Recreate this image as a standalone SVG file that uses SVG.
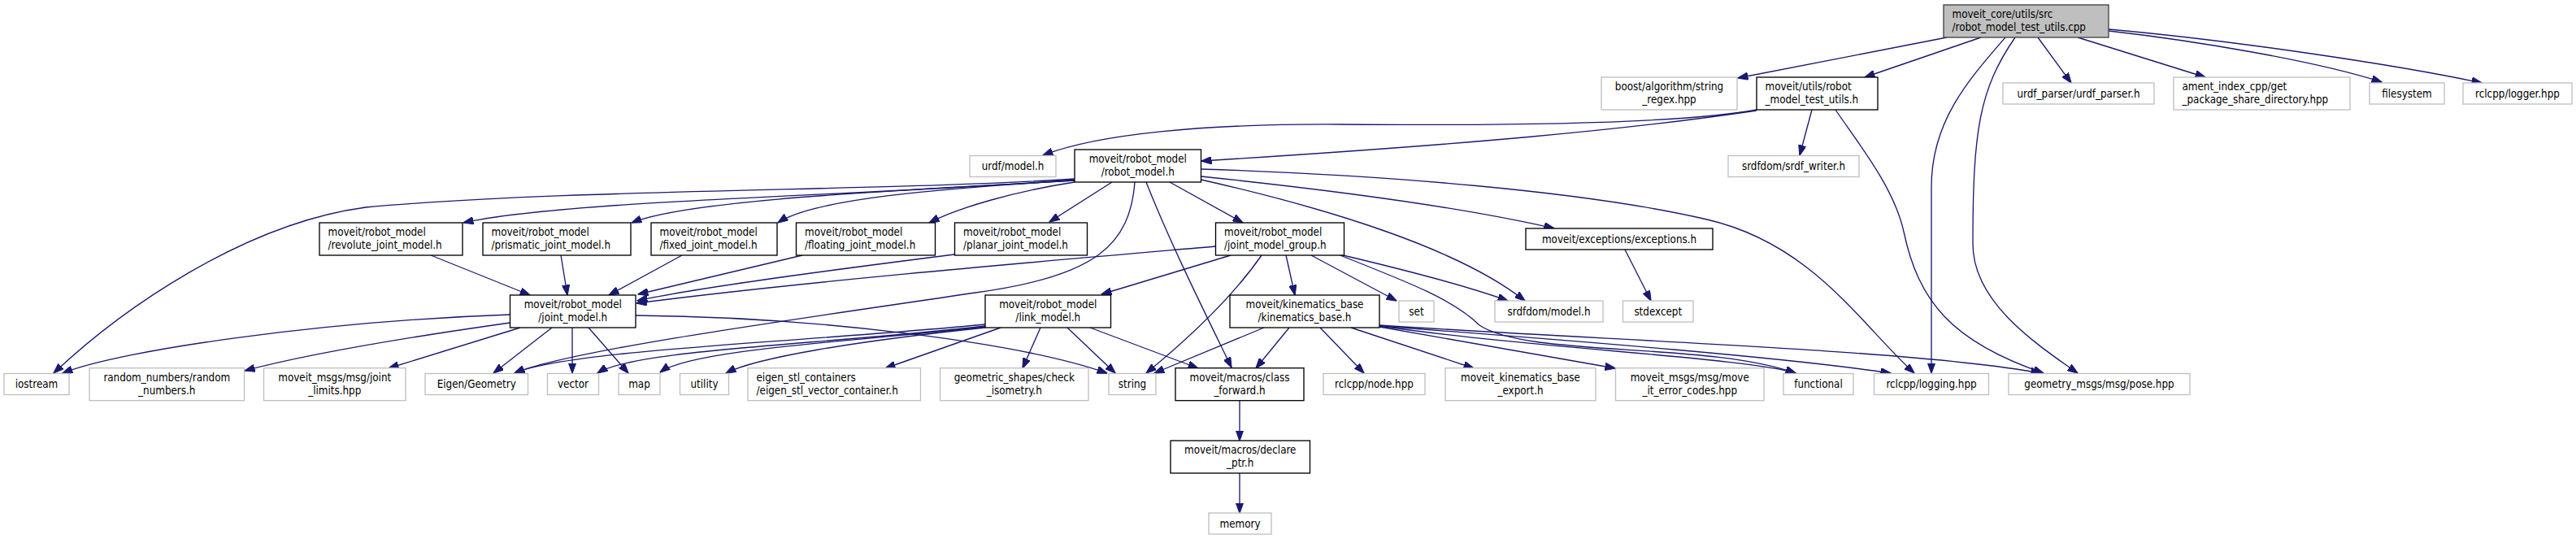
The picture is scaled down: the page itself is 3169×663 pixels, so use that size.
<svg xmlns="http://www.w3.org/2000/svg" width="3169" height="663" viewBox="0 0 3169 663">
<style>
.n rect{fill:#fff;stroke:#bfbfbf;stroke-width:1.33}
.d rect{fill:#fff;stroke:#000;stroke-width:1.33}
.r rect{fill:#bfbfbf;stroke:#404040;stroke-width:1.33}
text{font-family:"DejaVu Sans Condensed","DejaVu Sans",sans-serif;font-stretch:condensed;font-size:13.3px;fill:#000}
.m{text-anchor:middle}
#edges path{fill:none;stroke:#191970;stroke-width:1.33;marker-end:url(#ah)}
</style>
<defs>
<marker id="ah" markerUnits="userSpaceOnUse" viewBox="0 0 13 9.4" refX="12.5" refY="4.7" markerWidth="13" markerHeight="9.4" orient="auto">
<path d="M0,0 L13,4.7 L0,9.4 z" fill="#191970" stroke="#191970" stroke-width="1"/>
</marker>
</defs>
<rect width="3169" height="663" fill="#fff"/>
<g id="edges">
<path d="M2395,46 L2138,96"/>
<path d="M2437,46 L2294,95"/>
<path d="M2507,46 L2548,102"/>
<path d="M2556,46 L2713,95"/>
<path d="M2594,38 C2700,50 2850,75 2930,101"/>
<path d="M2594,36 C2750,50 2950,80 3053,102"/>
<path d="M2467,46 C2420,100 2376,150 2376,230 L2376,459"/>
<path d="M2479,46 C2435,110 2427,160 2427,300 C2427,370 2500,420 2556,459"/>
<path d="M2161,135 C2080,150 1900,155 1650,153 C1480,152 1350,165 1283,191"/>
<path d="M2161,136 C2000,160 1800,178 1478,198"/>
<path d="M2229,135 L2214,191"/>
<path d="M2258,135 C2285,175 2330,230 2342,285 C2360,370 2400,420 2514,459"/>
<path d="M1322,220 C1100,235 700,232 450,255 C300,275 150,380 66,459"/>
<path d="M1322,221 C1100,240 700,245 570,274"/>
<path d="M1322,222 C1100,235 850,245 777,274"/>
<path d="M1322,222 C1150,232 1000,245 957,274"/>
<path d="M1322,224 C1250,235 1180,255 1143,274"/>
<path d="M1368,224 L1291,273"/>
<path d="M1439,224 L1529,274"/>
<path d="M1477.5,217 C1650,235 1800,255 1912,281"/>
<path d="M1477.5,221 C1650,260 1800,310 1876,370"/>
<path d="M1477.5,208 C1700,215 1950,235 2100,270 C2230,300 2290,400 2355,459"/>
<path d="M1396,224 C1390,300 1350,340 1200,360 C1000,390 700,430 633,459"/>
<path d="M1410,224 C1440,300 1480,380 1515,452"/>
<path d="M1495.5,303 C1300,320 1000,345 783,373"/>
<path d="M1514,314 L1355,362"/>
<path d="M1582,314 L1593,363"/>
<path d="M1613,314 L1718,370"/>
<path d="M1648,313 C1720,330 1800,350 1855,370"/>
<path d="M1646,313 C1740,350 1790,370 1820,400 C1880,440 2100,420 2209,459"/>
<path d="M1552,314 C1520,360 1470,410 1410,459"/>
<path d="M627.5,387 C400,395 150,430 77,459"/>
<path d="M627.5,397 C500,415 380,435 301,456"/>
<path d="M640,403 L478,453"/>
<path d="M679,403 L607,459"/>
<path d="M704,403 L704,459"/>
<path d="M724,403 L773,459"/>
<path d="M782,388 C1000,390 1250,420 1362,459"/>
<path d="M1212,399 C1000,420 700,430 633,459"/>
<path d="M1212,401 C1000,425 780,430 735,459"/>
<path d="M1212,402 C1050,420 850,430 812,458"/>
<path d="M1212,403 C1050,420 930,440 893,459"/>
<path d="M1231,403 L1089,453"/>
<path d="M1280,403 L1258,453"/>
<path d="M1313,403 L1372,459"/>
<path d="M1341,403 L1474,453"/>
<path d="M1555,403 L1420,459"/>
<path d="M1586,403 L1545,453"/>
<path d="M1624,403 L1678,459"/>
<path d="M1662,403 L1813,453"/>
<path d="M1697,402 L1987,453"/>
<path d="M1697,401 C1900,430 2150,440 2209,459"/>
<path d="M1697,401 C1950,420 2200,440 2326,459"/>
<path d="M1697,400 C2000,420 2350,430 2511,459"/>
<path d="M530,314 L652,363"/>
<path d="M690,314 L698,363"/>
<path d="M839,314 L749,363"/>
<path d="M987,314 L785,362"/>
<path d="M1174,313 C1000,335 850,355 784,370"/>
<path d="M1999,307 L2031,370"/>
<path d="M1525,493 L1525,542"/>
<path d="M1525,582 L1525,631"/>
</g>
<g id="root" class="r"><rect x="2391" y="6" width="203" height="40"/><text x="2401.5" y="22.3">moveit_core/utils/src</text><text x="2401.5" y="37.9">/robot_model_test_utils.cpp</text></g>
<g id="boost" class="n"><rect x="1970" y="95" width="167" height="40"/><text class="m" x="2053.5" y="111.3">boost/algorithm/string</text><text class="m" x="2053.5" y="126.9">_regex.hpp</text></g>
<g id="test_utils" class="d"><rect x="2161" y="95" width="149" height="40"/><text x="2171.5" y="111.3">moveit/utils/robot</text><text x="2171.5" y="126.9">_model_test_utils.h</text></g>
<g id="urdf_parser" class="n"><rect x="2464" y="102" width="186" height="26"/><text class="m" x="2557" y="119.6">urdf_parser/urdf_parser.h</text></g>
<g id="ament" class="n"><rect x="2674" y="95" width="217" height="40"/><text x="2684.5" y="111.3">ament_index_cpp/get</text><text x="2684.5" y="126.9">_package_share_directory.hpp</text></g>
<g id="filesystem" class="n"><rect x="2915" y="102" width="92" height="26"/><text class="m" x="2961" y="119.6">filesystem</text></g>
<g id="logger" class="n"><rect x="3030" y="102" width="134" height="26"/><text class="m" x="3097" y="119.6">rclcpp/logger.hpp</text></g>
<g id="urdf_model" class="n"><rect x="1193" y="191.5" width="106" height="26"/><text class="m" x="1246" y="209.1">urdf/model.h</text></g>
<g id="robot_model" class="d"><rect x="1322" y="184" width="155.5" height="40"/><text class="m" x="1399.75" y="200.3">moveit/robot_model</text><text class="m" x="1399.75" y="215.9">/robot_model.h</text></g>
<g id="srdf_writer" class="n"><rect x="2126" y="191.5" width="161" height="26"/><text class="m" x="2206.5" y="209.1">srdfdom/srdf_writer.h</text></g>
<g id="revolute" class="d"><rect x="393" y="274" width="176" height="40"/><text x="403.5" y="290.3">moveit/robot_model</text><text x="403.5" y="305.9">/revolute_joint_model.h</text></g>
<g id="prismatic" class="d"><rect x="594" y="274" width="182" height="40"/><text x="604.5" y="290.3">moveit/robot_model</text><text x="604.5" y="305.9">/prismatic_joint_model.h</text></g>
<g id="fixed" class="d"><rect x="801" y="274" width="155" height="40"/><text x="811.5" y="290.3">moveit/robot_model</text><text x="811.5" y="305.9">/fixed_joint_model.h</text></g>
<g id="floating" class="d"><rect x="979.5" y="274" width="171" height="40"/><text x="990" y="290.3">moveit/robot_model</text><text x="990" y="305.9">/floating_joint_model.h</text></g>
<g id="planar" class="d"><rect x="1174.5" y="274" width="163" height="40"/><text x="1185" y="290.3">moveit/robot_model</text><text x="1185" y="305.9">/planar_joint_model.h</text></g>
<g id="jmg" class="d"><rect x="1495.5" y="274" width="158" height="40"/><text x="1506" y="290.3">moveit/robot_model</text><text x="1506" y="305.9">/joint_model_group.h</text></g>
<g id="exceptions" class="d"><rect x="1877" y="281" width="230" height="26"/><text class="m" x="1992" y="298.6">moveit/exceptions/exceptions.h</text></g>
<g id="joint_model" class="d"><rect x="627.5" y="363" width="154.5" height="40"/><text class="m" x="704.75" y="379.3">moveit/robot_model</text><text class="m" x="704.75" y="394.9">/joint_model.h</text></g>
<g id="link_model" class="d"><rect x="1212" y="363" width="154.5" height="40"/><text class="m" x="1289.25" y="379.3">moveit/robot_model</text><text class="m" x="1289.25" y="394.9">/link_model.h</text></g>
<g id="kinematics_base" class="d"><rect x="1513" y="363" width="184" height="40"/><text class="m" x="1605" y="379.3">moveit/kinematics_base</text><text class="m" x="1605" y="394.9">/kinematics_base.h</text></g>
<g id="set" class="n"><rect x="1721" y="370" width="43" height="26"/><text class="m" x="1742.5" y="387.6">set</text></g>
<g id="srdf_model" class="n"><rect x="1839" y="370" width="133" height="26"/><text class="m" x="1905.5" y="387.6">srdfdom/model.h</text></g>
<g id="stdexcept" class="n"><rect x="1996.5" y="370" width="86.5" height="26"/><text class="m" x="2039.75" y="387.6">stdexcept</text></g>
<g id="iostream" class="n"><rect x="5" y="459.5" width="80" height="26"/><text class="m" x="45" y="477.1">iostream</text></g>
<g id="random_numbers" class="n"><rect x="110" y="452.7" width="190.5" height="40"/><text class="m" x="205.25" y="469">random_numbers/random</text><text class="m" x="205.25" y="484.6">_numbers.h</text></g>
<g id="joint_limits" class="n"><rect x="324.5" y="452.7" width="174.5" height="40"/><text class="m" x="411.75" y="469">moveit_msgs/msg/joint</text><text class="m" x="411.75" y="484.6">_limits.hpp</text></g>
<g id="eigen_geometry" class="n"><rect x="523" y="459.5" width="126.5" height="26"/><text class="m" x="586.25" y="477.1">Eigen/Geometry</text></g>
<g id="vector" class="n"><rect x="673.5" y="459.5" width="63" height="26"/><text class="m" x="705" y="477.1">vector</text></g>
<g id="map" class="n"><rect x="761" y="459.5" width="51" height="26"/><text class="m" x="786.5" y="477.1">map</text></g>
<g id="utility" class="n"><rect x="836.5" y="459.5" width="60" height="26"/><text class="m" x="866.5" y="477.1">utility</text></g>
<g id="eigen_stl" class="n"><rect x="920" y="452.7" width="212.5" height="40"/><text x="930.5" y="469">eigen_stl_containers</text><text x="930.5" y="484.6">/eigen_stl_vector_container.h</text></g>
<g id="geometric_shapes" class="n"><rect x="1156.5" y="452.7" width="182.5" height="40"/><text class="m" x="1247.75" y="469">geometric_shapes/check</text><text class="m" x="1247.75" y="484.6">_isometry.h</text></g>
<g id="string" class="n"><rect x="1364" y="459.5" width="58" height="26"/><text class="m" x="1393" y="477.1">string</text></g>
<g id="class_forward" class="d"><rect x="1446" y="452.7" width="158" height="40"/><text class="m" x="1525" y="469">moveit/macros/class</text><text class="m" x="1525" y="484.6">_forward.h</text></g>
<g id="node_hpp" class="n"><rect x="1628" y="459.5" width="125" height="26"/><text class="m" x="1690.5" y="477.1">rclcpp/node.hpp</text></g>
<g id="kin_export" class="n"><rect x="1778" y="452.7" width="185" height="40"/><text class="m" x="1870.5" y="469">moveit_kinematics_base</text><text class="m" x="1870.5" y="484.6">_export.h</text></g>
<g id="error_codes" class="n"><rect x="1987.5" y="452.7" width="182.5" height="40"/><text class="m" x="2078.75" y="469">moveit_msgs/msg/move</text><text class="m" x="2078.75" y="484.6">_it_error_codes.hpp</text></g>
<g id="functional" class="n"><rect x="2194" y="459.5" width="86" height="26"/><text class="m" x="2237" y="477.1">functional</text></g>
<g id="logging" class="n"><rect x="2305.5" y="459.5" width="141" height="26"/><text class="m" x="2376" y="477.1">rclcpp/logging.hpp</text></g>
<g id="pose" class="n"><rect x="2471" y="459.5" width="223" height="26"/><text class="m" x="2582.5" y="477.1">geometry_msgs/msg/pose.hpp</text></g>
<g id="declare_ptr" class="d"><rect x="1440" y="542" width="171.5" height="40"/><text class="m" x="1525.75" y="558.3">moveit/macros/declare</text><text class="m" x="1525.75" y="573.9">_ptr.h</text></g>
<g id="memory" class="n"><rect x="1487" y="631" width="77" height="26"/><text class="m" x="1525.5" y="648.6">memory</text></g>
</svg>
